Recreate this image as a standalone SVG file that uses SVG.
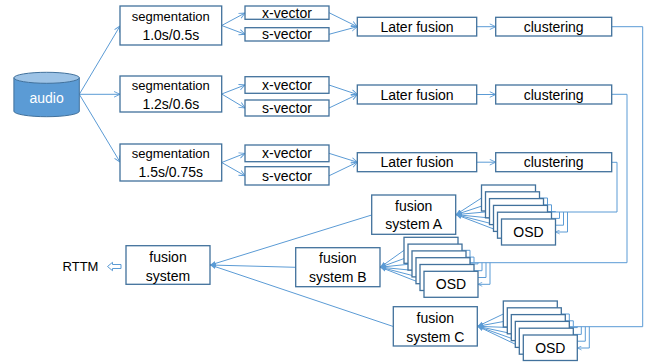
<svg xmlns="http://www.w3.org/2000/svg" width="649" height="362" viewBox="0 0 649 362">
<style>
.b{fill:#fff;stroke:#41719C;stroke-width:1.3}
.c{fill:none;stroke:#5B9BD5;stroke-width:1}
.t{font-family:"Liberation Sans",Arial,sans-serif;font-size:14px;fill:#000;text-anchor:middle}
.s13{font-size:13px}
</style>
<defs>
<marker id="arr" viewBox="0 0 10 10" refX="9.5" refY="5" markerWidth="7" markerHeight="7" orient="auto" markerUnits="userSpaceOnUse">
<path d="M1,1 L9.5,5 L1,9" fill="none" stroke="#5B9BD5" stroke-width="1.3"/>
</marker>
<marker id="sm" viewBox="0 0 10 10" refX="9.5" refY="5" markerWidth="5" markerHeight="5" orient="auto" markerUnits="userSpaceOnUse">
<path d="M1,1 L9.5,5 L1,9" fill="none" stroke="#5B9BD5" stroke-width="1.5"/>
</marker>
<marker id="fill" viewBox="0 0 10 10" refX="9.5" refY="5" markerWidth="6" markerHeight="6" orient="auto" markerUnits="userSpaceOnUse">
<path d="M0,1 L10,5 L0,9 Z" fill="#5B9BD5"/>
</marker>
</defs>

<g id="connectors">
<!-- audio to segmentation -->
<path class="c" d="M79.3,94.3 L120,26" marker-end="url(#arr)"/>
<path class="c" d="M79.3,94.3 L120,94.3" marker-end="url(#arr)"/>
<path class="c" d="M79.3,94.3 L120,162" marker-end="url(#arr)"/>
<!-- segmentation to vectors -->
<path class="c" d="M221.7,25.5 L245,13" marker-end="url(#arr)"/>
<path class="c" d="M221.7,25.5 L245,34.3" marker-end="url(#arr)"/>
<path class="c" d="M221.7,94 L245,85" marker-end="url(#arr)"/>
<path class="c" d="M221.7,94 L245,108" marker-end="url(#arr)"/>
<path class="c" d="M221.7,162.5 L245,153.3" marker-end="url(#arr)"/>
<path class="c" d="M221.7,162.5 L245,175.8" marker-end="url(#arr)"/>
<!-- vectors to later fusion -->
<path class="c" d="M329,12.7 L357.3,26.7" marker-end="url(#arr)"/>
<path class="c" d="M329,34.3 L357.3,26.7" marker-end="url(#arr)"/>
<path class="c" d="M329,85 L357.3,94.5" marker-end="url(#arr)"/>
<path class="c" d="M329,108 L357.3,94.5" marker-end="url(#arr)"/>
<path class="c" d="M329,153.3 L357.3,162.2" marker-end="url(#arr)"/>
<path class="c" d="M329,175.8 L357.3,162.2" marker-end="url(#arr)"/>
<!-- later fusion to clustering -->
<path class="c" d="M476.7,26.7 L495.7,26.7" marker-end="url(#arr)"/>
<path class="c" d="M476.7,94.5 L495.7,94.5" marker-end="url(#arr)"/>
<path class="c" d="M476.7,162.2 L495.7,162.2" marker-end="url(#arr)"/>
<!-- clustering 3 to OSD stack A -->
<path class="c" d="M611.7,162.3 H617 V212 H547.5"/>
<path class="c" d="M547.5,212 V198 H535.5" marker-end="url(#sm)"/>
<path class="c" d="M551.5,212 V204.8 H539.5" marker-end="url(#sm)"/>
<path class="c" d="M555.5,212 V211.6 H543.5" marker-end="url(#sm)"/>
<path class="c" d="M559.5,212 V218.4 H547.5" marker-end="url(#sm)"/>
<path class="c" d="M563.5,212 V225.2 H551.5" marker-end="url(#sm)"/>
<path class="c" d="M567.5,212 V232 H555.5" marker-end="url(#sm)"/>
<!-- clustering 2 to OSD stack B -->
<path class="c" d="M611.7,94.3 H627 V262.7 H470"/>
<path class="c" d="M470,262.7 V250.3 H458" marker-end="url(#sm)"/>
<path class="c" d="M474,262.7 V257.1 H462" marker-end="url(#sm)"/>
<path class="c" d="M478,262.7 V263.9 H466" marker-end="url(#sm)"/>
<path class="c" d="M482,262.7 V270.7 H470" marker-end="url(#sm)"/>
<path class="c" d="M486,262.7 V277.5 H474" marker-end="url(#sm)"/>
<path class="c" d="M490,262.7 V284.3 H478" marker-end="url(#sm)"/>
<!-- clustering 1 to OSD stack C -->
<path class="c" d="M611.7,26.7 H642.7 V326.7 H569.3"/>
<path class="c" d="M569.3,326.7 V314 H557.3" marker-end="url(#sm)"/>
<path class="c" d="M573.3,326.7 V320.8 H561.3" marker-end="url(#sm)"/>
<path class="c" d="M577.3,326.7 V327.6 H565.3" marker-end="url(#sm)"/>
<path class="c" d="M581.3,326.7 V334.4 H569.3" marker-end="url(#sm)"/>
<path class="c" d="M585.3,326.7 V341.2 H573.3" marker-end="url(#sm)"/>
<path class="c" d="M589.3,326.7 V348 H577.3" marker-end="url(#sm)"/>
<!-- OSD stack A to fusion system A -->
<path class="c" d="M481.5,198 L456,214.6" marker-end="url(#fill)"/>
<path class="c" d="M485.5,204.8 L456,214.6" marker-end="url(#fill)"/>
<path class="c" d="M489.5,211.6 L456,214.6" marker-end="url(#fill)"/>
<path class="c" d="M493.5,218.4 L456,214.6" marker-end="url(#fill)"/>
<path class="c" d="M497.5,225.2 L456,214.6" marker-end="url(#fill)"/>
<path class="c" d="M501.5,232 L456,214.6" marker-end="url(#fill)"/>
<!-- OSD stack B to fusion system B -->
<path class="c" d="M404,250.3 L380.3,267.2" marker-end="url(#fill)"/>
<path class="c" d="M408,257.1 L380.3,267.2" marker-end="url(#fill)"/>
<path class="c" d="M412,263.9 L380.3,267.2" marker-end="url(#fill)"/>
<path class="c" d="M416,270.7 L380.3,267.2" marker-end="url(#fill)"/>
<path class="c" d="M420,277.5 L380.3,267.2" marker-end="url(#fill)"/>
<path class="c" d="M424,284.3 L380.3,267.2" marker-end="url(#fill)"/>
<!-- OSD stack C to fusion system C -->
<path class="c" d="M503.3,314 L477.6,326.3" marker-end="url(#fill)"/>
<path class="c" d="M507.3,320.8 L477.6,326.3" marker-end="url(#fill)"/>
<path class="c" d="M511.3,327.6 L477.6,326.3" marker-end="url(#fill)"/>
<path class="c" d="M515.3,334.4 L477.6,326.3" marker-end="url(#fill)"/>
<path class="c" d="M519.3,341.2 L477.6,326.3" marker-end="url(#fill)"/>
<path class="c" d="M523.3,348 L477.6,326.3" marker-end="url(#fill)"/>
<!-- fusion systems to final fusion -->
<path class="c" d="M371.7,215 L210.3,265" marker-end="url(#fill)"/>
<path class="c" d="M295.7,267.3 L210.3,265" marker-end="url(#fill)"/>
<path class="c" d="M393.3,326.5 L210.3,265" marker-end="url(#fill)"/>
<!-- output arrow -->
<path d="M107.5,266.5 L112.5,262.3 L112.5,264.5 L121,264.5 L121,268.5 L112.5,268.5 L112.5,270.7 Z" fill="#fff" stroke="#5B9BD5" stroke-width="1"/>
</g>

<g id="audio">
<path d="M13.9,77.8 V111.2 A32.7,5.5 0 0 0 79.3,111.2 V77.8 Z" fill="#5B9BD5" stroke="#41719C" stroke-width="1"/>
<ellipse cx="46.6" cy="77.8" rx="32.7" ry="5.5" fill="#9DC3E6" stroke="#41719C" stroke-width="1"/>
<text class="t" x="46.6" y="102.7" fill="#fff" style="fill:#fff">audio</text>
</g>

<g id="seg1"><rect class="b" x="120" y="6" width="101.7" height="39"/>
<text class="t s13" x="170.8" y="21.3">segmentation</text><text class="t" x="170.8" y="40">1.0s/0.5s</text></g>
<g id="seg2"><rect class="b" x="120" y="76" width="101.7" height="36"/>
<text class="t s13" x="170.8" y="90.3">segmentation</text><text class="t" x="170.8" y="109.3">1.2s/0.6s</text></g>
<g id="seg3"><rect class="b" x="120" y="144" width="101.7" height="37"/>
<text class="t s13" x="170.8" y="157.9">segmentation</text><text class="t" x="170.8" y="177.3">1.5s/0.75s</text></g>

<g id="xvec1"><rect class="b" x="245" y="6" width="84" height="13.3"/><text class="t" x="287" y="18">x-vector</text></g>
<g id="svec1"><rect class="b" x="245" y="27.7" width="84" height="13.3"/><text class="t" x="287" y="39.3">s-vector</text></g>
<g id="xvec2"><rect class="b" x="245" y="76.7" width="84" height="16.6"/><text class="t" x="287" y="90">x-vector</text></g>
<g id="svec2"><rect class="b" x="245" y="100" width="84" height="16"/><text class="t" x="287" y="113">s-vector</text></g>
<g id="xvec3"><rect class="b" x="245" y="145" width="84" height="16.7"/><text class="t" x="287" y="158.3">x-vector</text></g>
<g id="svec3"><rect class="b" x="245" y="166.7" width="84" height="18.3"/><text class="t" x="287" y="180.8">s-vector</text></g>

<g id="later1"><rect class="b" x="357.3" y="17.3" width="119.4" height="18.7"/><text class="t" x="417" y="31.7">Later fusion</text></g>
<g id="later2"><rect class="b" x="357.3" y="85" width="119.4" height="19"/><text class="t" x="417" y="99.5">Later fusion</text></g>
<g id="later3"><rect class="b" x="357.3" y="152.7" width="119.4" height="19"/><text class="t" x="417" y="167.2">Later fusion</text></g>

<g id="clust1"><rect class="b" x="495.7" y="17.3" width="116" height="18.7"/><text class="t" x="553.7" y="31.7">clustering</text></g>
<g id="clust2"><rect class="b" x="495.7" y="85" width="116" height="19"/><text class="t" x="553.7" y="99.5">clustering</text></g>
<g id="clust3"><rect class="b" x="495.7" y="152.7" width="116" height="19"/><text class="t" x="553.7" y="167.2">clustering</text></g>

<g id="osdA">
<rect class="b" x="481.5" y="185" width="54" height="26"/>
<rect class="b" x="485.5" y="191.8" width="54" height="26"/>
<rect class="b" x="489.5" y="198.6" width="54" height="26"/>
<rect class="b" x="493.5" y="205.4" width="54" height="26"/>
<rect class="b" x="497.5" y="212.2" width="54" height="26"/>
<rect class="b" x="501.5" y="219" width="54" height="26"/>
<text class="t" x="528.5" y="237">OSD</text>
</g>
<g id="osdB">
<rect class="b" x="404" y="237.3" width="54" height="26"/>
<rect class="b" x="408" y="244.1" width="54" height="26"/>
<rect class="b" x="412" y="250.9" width="54" height="26"/>
<rect class="b" x="416" y="257.7" width="54" height="26"/>
<rect class="b" x="420" y="264.5" width="54" height="26"/>
<rect class="b" x="424" y="271.3" width="54" height="26"/>
<text class="t" x="451" y="289.3">OSD</text>
</g>
<g id="osdC">
<rect class="b" x="503.3" y="301" width="54" height="26"/>
<rect class="b" x="507.3" y="307.8" width="54" height="26"/>
<rect class="b" x="511.3" y="314.6" width="54" height="26"/>
<rect class="b" x="515.3" y="321.4" width="54" height="26"/>
<rect class="b" x="519.3" y="328.2" width="54" height="26"/>
<rect class="b" x="523.3" y="335" width="54" height="25.5"/>
<text class="t" x="550.3" y="353">OSD</text>
</g>

<g id="fusionA"><rect class="b" x="371.7" y="195" width="84" height="39.3"/>
<text class="t" x="413.7" y="211">fusion</text><text class="t" x="413.7" y="229.3">system A</text></g>
<g id="fusionB"><rect class="b" x="295.7" y="247.7" width="84.3" height="39"/>
<text class="t" x="337.8" y="263.3">fusion</text><text class="t" x="337.8" y="282.3">system B</text></g>
<g id="fusionC"><rect class="b" x="393.3" y="306.7" width="84" height="39.3"/>
<text class="t" x="435.3" y="322.7">fusion</text><text class="t" x="435.3" y="341.7">system C</text></g>

<g id="fusion"><rect class="b" x="126" y="245.7" width="84" height="38.6"/>
<text class="t" x="168" y="261.7">fusion</text><text class="t" x="168" y="280.7">system</text></g>

<g id="rttm"><text class="t s13" x="80.5" y="271.4">RTTM</text></g>
</svg>
